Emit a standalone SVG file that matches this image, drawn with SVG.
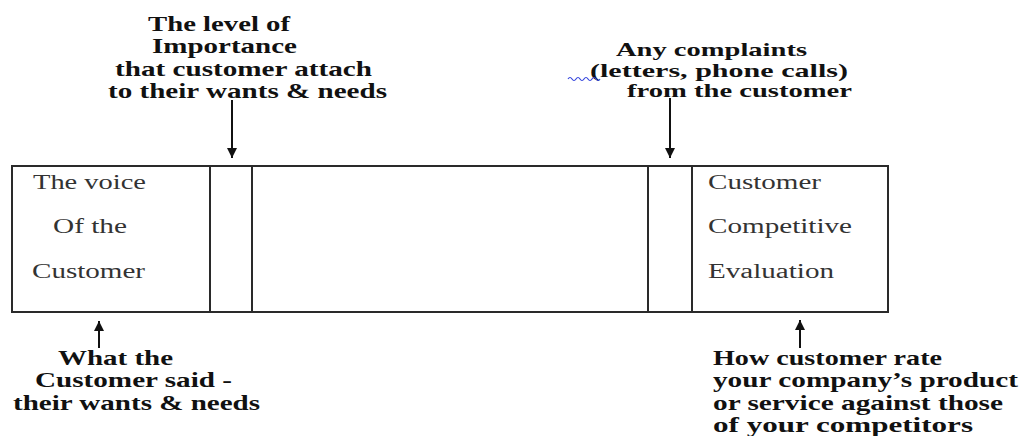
<svg xmlns="http://www.w3.org/2000/svg" width="1026" height="436" viewBox="0 0 1026 436">
<style>
.r{font-family:'Liberation Serif','Times New Roman','DejaVu Serif',serif;font-size:20px;fill:#333}
.b{font-family:'Liberation Serif','Times New Roman','DejaVu Serif',serif;font-size:21px;font-weight:bold;fill:#111}
.s{font-size:19px}
.ln{stroke:#2a2a2a;stroke-width:2;fill:none}
</style>
<defs>
<marker id="ah" viewBox="0 0 10 10" refX="10" refY="5" markerWidth="5" markerHeight="5" orient="auto" markerUnits="strokeWidth">
<path d="M0,0 L10,5 L0,10 z" fill="#111"/>
</marker>
</defs>
<rect width="1026" height="436" fill="#fff"/>
<g id="matrix">
<rect class="ln" x="12" y="166" width="876" height="146"/>
<line class="ln" x1="210" y1="166" x2="210" y2="312"/>
<line class="ln" x1="252" y1="166" x2="252" y2="312"/>
<line class="ln" x1="648" y1="166" x2="648" y2="312"/>
<line class="ln" x1="692" y1="166" x2="692" y2="312"/>
</g>
<g id="voice">
<text class="r" x="33" y="189" textLength="113" lengthAdjust="spacingAndGlyphs">The voice</text>
<text class="r" x="53" y="233" textLength="74" lengthAdjust="spacingAndGlyphs">Of the</text>
<text class="r" x="32" y="278" textLength="113" lengthAdjust="spacingAndGlyphs">Customer</text>
</g>
<g id="evaluation">
<text class="r" x="708" y="189" textLength="113" lengthAdjust="spacingAndGlyphs">Customer</text>
<text class="r" x="708" y="233" textLength="144" lengthAdjust="spacingAndGlyphs">Competitive</text>
<text class="r" x="708" y="278" textLength="126" lengthAdjust="spacingAndGlyphs">Evaluation</text>
</g>
<g id="importance">
<text class="b" x="148" y="31" textLength="142" lengthAdjust="spacingAndGlyphs">The level of</text>
<text class="b" x="152" y="53" textLength="145" lengthAdjust="spacingAndGlyphs">Importance</text>
<text class="b" x="115" y="76" textLength="257" lengthAdjust="spacingAndGlyphs">that customer attach</text>
<text class="b" x="108" y="98" textLength="279" lengthAdjust="spacingAndGlyphs">to their wants &amp; needs</text>
</g>
<g id="complaints">
<text class="b s" x="616" y="56" textLength="191" lengthAdjust="spacingAndGlyphs">Any complaints</text>
<text class="b s" x="590" y="77" textLength="258" lengthAdjust="spacingAndGlyphs">(letters, phone calls)</text>
<text class="b s" x="627" y="97" textLength="225" lengthAdjust="spacingAndGlyphs">from the customer</text>
<path d="M568,79 q2,-3 4,0 t4,0 t4,0 t4,0 t4,0 t4,0 t4,0 t4,0" stroke="#3344dd" stroke-width="1.2" fill="none"/>
</g>
<g id="said">
<text class="b" x="58" y="365" textLength="115" lengthAdjust="spacingAndGlyphs">What the</text>
<text class="b" x="35" y="387" textLength="197" lengthAdjust="spacingAndGlyphs">Customer said -</text>
<text class="b" x="13" y="410" textLength="247" lengthAdjust="spacingAndGlyphs">their wants &amp; needs</text>
</g>
<g id="rate">
<text class="b" x="713" y="365" textLength="229" lengthAdjust="spacingAndGlyphs">How customer rate</text>
<text class="b" x="713" y="387" textLength="305" lengthAdjust="spacingAndGlyphs">your company’s product</text>
<text class="b" x="713" y="410" textLength="290" lengthAdjust="spacingAndGlyphs">or service against those</text>
<text class="b" x="713" y="432" textLength="260" lengthAdjust="spacingAndGlyphs">of your competitors</text>
</g>
<g id="connectors" stroke="#111" stroke-width="2" fill="none">
<line x1="232" y1="100" x2="232" y2="158" marker-end="url(#ah)"/>
<line x1="670" y1="98" x2="670" y2="158" marker-end="url(#ah)"/>
<line x1="99" y1="348" x2="99" y2="321" marker-end="url(#ah)"/>
<line x1="800" y1="348" x2="800" y2="320" marker-end="url(#ah)"/>
</g>
</svg>
